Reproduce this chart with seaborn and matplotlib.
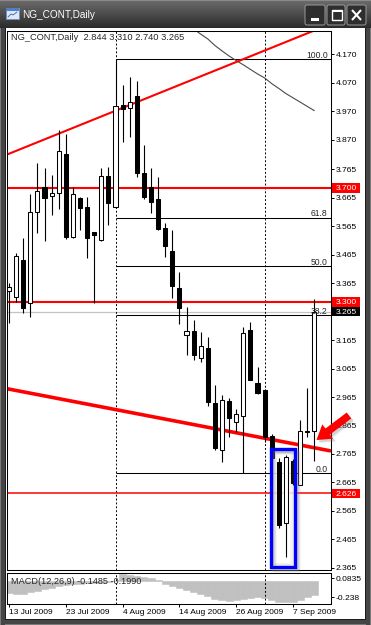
import numpy as np
import pandas as pd
import matplotlib
matplotlib.use("Agg")
import matplotlib.pyplot as plt
import matplotlib.transforms as mtransforms
from matplotlib.patches import Rectangle, FancyArrow, FancyBboxPatch
import seaborn as sns

# ---------------- data ----------------
date_labels = ["13 Jul 2009", "23 Jul 2009", "4 Aug 2009", "14 Aug 2009", "26 Aug 2009", "7 Sep 2009"]
date_bars = [0, 8, 16, 24, 32, 40]

opens = [3.338, 3.318, 3.447, 3.295, 3.614, 3.704, 3.673, 3.681, 3.819, 3.527,
         3.666, 3.634, 3.544, 3.517, 3.743, 3.632, 3.991, 3.980, 4.023, 3.752,
         3.704, 3.660, 3.558, 3.478, 3.347, 3.183, 3.197, 3.101, 3.136, 2.943,
         2.779, 2.952, 2.876, 2.898, 3.201, 3.013, 2.990, 2.829, 2.738, 2.521,
         2.741, 2.656, 2.845, 2.844]
highs = [3.365, 3.472, 3.525, 3.679, 3.787, 3.769, 3.746, 3.904, 3.889, 3.702,
         3.670, 3.667, 3.546, 3.771, 3.773, 4.152, 4.062, 4.091, 4.077, 3.851,
         3.769, 3.740, 3.576, 3.552, 3.406, 3.283, 3.236, 3.195, 3.177, 3.007,
         2.972, 2.961, 2.923, 3.212, 3.230, 3.070, 2.992, 2.835, 2.750, 2.761,
         2.748, 2.884, 2.996, 3.310]
lows = [3.224, 3.300, 3.261, 3.247, 3.543, 3.514, 3.605, 3.626, 3.520, 3.524,
        3.552, 3.453, 3.295, 3.515, 3.570, 3.628, 3.863, 3.880, 3.740, 3.661,
        3.611, 3.552, 3.458, 3.312, 3.222, 3.113, 3.095, 3.089, 2.933, 2.779,
        2.738, 2.826, 2.843, 2.697, 3.025, 2.975, 2.808, 2.740, 2.503, 2.404,
        2.655, 2.656, 2.825, 2.740]
closes = [3.352, 3.461, 3.279, 3.617, 3.690, 3.664, 3.681, 3.831, 3.529, 3.678,
          3.629, 3.523, 3.535, 3.742, 3.646, 3.988, 3.977, 4.002, 3.752, 3.669,
          3.650, 3.555, 3.496, 3.355, 3.277, 3.197, 3.113, 3.144, 2.949, 2.785,
          2.955, 2.890, 2.907, 3.191, 3.025, 2.978, 2.825, 2.750, 2.515, 2.755,
          2.662, 2.845, 2.843, 3.265]

ma_bars = list(range(25, 44))
ma_values = [4.280, 4.259, 4.241, 4.224, 4.201, 4.182, 4.164, 4.148, 4.133, 4.117,
             4.101, 4.087, 4.067, 4.050, 4.032, 4.017, 4.002, 3.987, 3.972]

macd_hist = [-0.128, -0.136, -0.139, -0.118, -0.104, -0.087, -0.076, -0.059, -0.045, -0.038,
             -0.031, -0.028, -0.024, -0.020, -0.012, -0.004, 0.073, 0.063, 0.052, 0.038,
             0.024, 0.010, -0.031, -0.052, -0.080, -0.101, -0.118, -0.136, -0.164, -0.191,
             -0.205, -0.209, -0.198, -0.188, -0.181, -0.174, -0.184, -0.198, -0.219, -0.226,
             -0.219, -0.198, -0.170, -0.1485]

fib_levels = [4.152, 3.596, 3.4245, 3.253, 2.697]
fib_labels = ["100.0", "61.8", "50.0", "38.2", "0.0"]
fib_start = 15

red_levels = [3.700, 3.300, 2.626]
red_level_labels = ["3.700", "3.300", "2.626"]
bid_price = 3.265
bid_label = "3.265"

price_ticks = [4.170, 4.070, 3.970, 3.870, 3.765, 3.665, 3.565, 3.465, 3.365, 3.265,
               3.165, 3.065, 2.965, 2.865, 2.765, 2.665, 2.565, 2.465, 2.365]

upper_trend_x = [-0.24, 45.31]
upper_trend_y = [3.818, 4.277]
lower_trend_x = [-0.24, 45.21]
lower_trend_y = [2.994, 2.776]

separators = [15, 36]

chart_title = "NG_CONT,Daily  2.844 3.310 2.740 3.265"
macd_title = "MACD(12,26,9) -0.1485 -0.1990"
macd_tick_labels = ["0.0835", "-0.238"]
window_title = "NG_CONT,Daily"

# ---------------- style ----------------
sns.set_style("white")
plt.rcParams['font.family'] = ['Liberation Sans', 'DejaVu Sans']

W, H = 371, 625
fig = plt.figure(figsize=(W / 100, H / 100), dpi=100)
fig.patch.set_facecolor('#3c3c3c')

# background (window chrome), pixel coordinates
bg = fig.add_axes([0, 0, 1, 1], zorder=0)
bg.set_xlim(0, W); bg.set_ylim(H, 0); bg.axis('off')

tb_h = 28
top_c = np.array([0.42, 0.42, 0.42]); bot_c = np.array([0.17, 0.17, 0.17])
for r in range(tb_h):
    t = r / (tb_h - 1)
    col = top_c * (1 - t) + bot_c * t
    bg.add_patch(Rectangle((0, r), W, 1, facecolor=col, edgecolor='none'))
bg.add_patch(Rectangle((0, 0), W, 1, facecolor='#8a8a8a', edgecolor='none'))
for (x0, w, col) in [(0, 1, '#7a7a7a'), (1, 4, '#454545'), (5, 1, '#1c1c1c'),
                     (365, 1, '#1c1c1c'), (366, 4, '#454545'), (370, 1, '#7a7a7a')]:
    bg.add_patch(Rectangle((x0, tb_h), w, H - tb_h, facecolor=col, edgecolor='none'))
for (y0, h, col) in [(619, 1, '#1c1c1c'), (620, 4, '#454545'), (624, 1, '#7a7a7a')]:
    bg.add_patch(Rectangle((5, y0), 361, h, facecolor=col, edgecolor='none'))
bg.add_patch(Rectangle((6, tb_h), 359, 619 - tb_h, facecolor='white', edgecolor='none'))

# icon
bg.add_patch(Rectangle((6, 8), 13, 11, facecolor='#dfe8f5', edgecolor='#6f8fc0', lw=0.6))
bg.add_patch(Rectangle((6, 8), 13, 3, facecolor='#4f7fc8', edgecolor='none'))
bg.plot([8, 11, 13, 17], [17, 14, 15, 12], color='#3060b0', lw=0.6)
bg.text(22.5, 15, window_title, color='white', fontsize=7.2, va='center', ha='left')

# title-bar buttons
for (x0, x1) in [(305, 325), (327, 345), (347, 366)]:
    bg.add_patch(FancyBboxPatch((x0, 5), x1 - x0, 20, boxstyle="round,pad=0,rounding_size=2",
                                facecolor='#2e2e2e', edgecolor='#9a9a9a', lw=0.7))
bg.add_patch(Rectangle((311, 18), 8, 2.5, facecolor='white', edgecolor='none'))
bg.add_patch(Rectangle((331.5, 9.5), 10, 10, facecolor='none', edgecolor='white', lw=1.0))
bg.add_patch(Rectangle((331.5, 9.5), 10, 2, facecolor='white', edgecolor='none'))
bg.plot([352, 361], [10, 20], color='white', lw=1.5, solid_capstyle='butt')
bg.plot([352, 361], [20, 10], color='white', lw=1.5, solid_capstyle='butt')

# ---------------- main price pane ----------------
px_left, px_right = 7.3, 330.7
main_top, main_bot = 30.7, 570.0
ax = fig.add_axes([px_left / W, 1 - main_bot / H, (px_right - px_left) / W, (main_bot - main_top) / H], zorder=1)
ax.set_facecolor('white')
xlim = (-0.24, 45.31)
ylim = (2.3568, 4.253)

ax.axhline(bid_price, color='#c4c4c4', lw=0.9, zorder=1)
for lv in red_levels[:2]:
    ax.axhline(lv, color='#ff0000', lw=1.5, zorder=1.6)
ax.axhline(red_levels[2], color='#ff0000', lw=1.1, zorder=1.6)

ax.hlines(fib_levels, fib_start, xlim[1], color='black', lw=0.75, zorder=1.5)
fib_trans = mtransforms.offset_copy(ax.transData, fig=fig, x=-2.2, y=1.6, units='dots')
for lv, lab in zip(fib_levels, fib_labels):
    ax.text(45.2, lv, lab, transform=fib_trans, ha='right', va='baseline', fontsize=6.2, zorder=6)

for s in separators:
    ax.axvline(s, color='black', lw=0.7, ls=(0, (2, 2)), zorder=1.4)

sns.lineplot(x=ma_bars, y=ma_values, ax=ax, color='#4a4a4a', linewidth=0.8, zorder=2)
sns.lineplot(x=upper_trend_x, y=upper_trend_y, ax=ax, color='#ff0000', linewidth=1.5, zorder=2.2)
sns.lineplot(x=lower_trend_x, y=lower_trend_y, ax=ax, color='#ff0000', linewidth=2.6, zorder=2.2)

idx = np.arange(len(opens))
o = np.array(opens); c = np.array(closes); hi = np.array(highs); lo = np.array(lows)
ax.vlines(idx, lo, hi, color='black', lw=0.8, zorder=3)
up = c >= o
body_h = np.maximum(np.abs(c - o), 0.002)
ax.bar(idx[up], body_h[up], bottom=np.minimum(o, c)[up], width=0.58,
       color='white', edgecolor='black', linewidth=0.75, zorder=4)
ax.bar(idx[~up], body_h[~up], bottom=np.minimum(o, c)[~up], width=0.58,
       color='black', edgecolor='black', linewidth=0.75, zorder=4)

ax.set_xlim(*xlim); ax.set_ylim(*ylim)
ax.set_xlabel(''); ax.set_ylabel('')
ax.set_yticks(price_ticks, labels=[f"{p:.3f}" for p in price_ticks])
ax.tick_params(axis='y', left=False, right=True, labelleft=False, labelright=True,
               direction='out', length=2.3, width=0.7, pad=1.2, labelsize=6.1, colors='black')
ax.tick_params(axis='x', bottom=False, labelbottom=False)
for sp in ax.spines.values():
    sp.set_color('black'); sp.set_linewidth(0.75); sp.set_visible(True)

ax.text(3.7 / 323.4, 1 - 6.6 / 539.3, chart_title, transform=ax.transAxes,
        fontsize=6.7, va='center', ha='left', zorder=7)

trans_lab = mtransforms.blended_transform_factory(ax.transAxes, ax.transData)
box_h = 9.6 / 284.4
for lv, lab, col in list(zip(red_levels, red_level_labels, ['#ff0000'] * 3)) + [(bid_price, bid_label, 'black')]:
    ax.add_patch(Rectangle((1 + 1.6 / 323.4, lv - box_h / 2), 27.5 / 323.4, box_h, transform=trans_lab,
                           facecolor=col, edgecolor='none', clip_on=False, zorder=10))
    ax.text(1 + 15.2 / 323.4, lv, lab, transform=trans_lab, color='white', ha='center',
            va='center_baseline', fontsize=6.1, clip_on=False, zorder=11)

# ---------------- MACD pane ----------------
m_top, m_bot = 572.7, 603.5
ax2 = fig.add_axes([px_left / W, 1 - m_bot / H, (px_right - px_left) / W, (m_bot - m_top) / H], zorder=1)
ax2.set_facecolor('white')
sns.barplot(x=list(idx), y=macd_hist, native_scale=True, width=1.0, color='#c0c0c0', saturation=1,
            edgecolor='#c0c0c0', linewidth=0.4, errorbar=None, ax=ax2, zorder=2)
for s in separators:
    ax2.axvline(s, color='black', lw=0.7, ls=(0, (2, 2)), zorder=3)
ax2.set_xlim(*xlim); ax2.set_ylim(-0.238, 0.0835)
ax2.set_xlabel(''); ax2.set_ylabel('')
ax2.set_xticks(date_bars, labels=date_labels, ha='left')
ax2.tick_params(axis='x', bottom=True, direction='out', length=2.3, width=0.7, pad=1.8,
                labelsize=6.0, colors='black')
mpp = 0.3215 / (m_bot - m_top)
ax2.set_yticks([0.0835 - (578.3 - m_top) * mpp, 0.0835 - (597.3 - m_top) * mpp], labels=macd_tick_labels)
ax2.tick_params(axis='y', left=False, right=True, labelleft=False, labelright=True,
                direction='out', length=2.3, width=0.7, pad=1.2, labelsize=6.1, colors='black')
for sp in ax2.spines.values():
    sp.set_color('black'); sp.set_linewidth(0.75); sp.set_visible(True)
ax2.text(3.7 / 323.4, (m_bot - 581.0) / (m_bot - m_top), macd_title, transform=ax2.transAxes,
         fontsize=6.6, va='center_baseline', ha='left', zorder=5)

# ---------------- foreground annotations (pixel coords) ----------------
fg = fig.add_axes([0, 0, 1, 1], zorder=5)
fg.set_xlim(0, W); fg.set_ylim(H, 0); fg.axis('off'); fg.patch.set_visible(False)

bx0, by0, bx1, by1 = 270.8, 449.4, 295.0, 567.3
ax.add_patch(Rectangle((bx0, by0), bx1 - bx0, by1 - by0, transform=fg.transData,
                       facecolor='white', edgecolor='none', alpha=0.85, zorder=2.5))
for k, a in [(4.0, 0.10), (2.8, 0.16), (1.6, 0.22)]:
    fg.add_patch(Rectangle((bx0 + k, by0 + k), bx1 - bx0, by1 - by0, facecolor='none',
                           edgecolor='#808080', lw=2.6, alpha=a))
for k, a in [(2.2, 0.12), (3.6, 0.07)]:
    fg.add_patch(Rectangle((bx0 + k, by0 + k), bx1 - bx0 - 2 * k, by1 - by0 - 2 * k, facecolor='none',
                           edgecolor='#808080', lw=1.6, alpha=a))
fg.add_patch(Rectangle((bx0, by0), bx1 - bx0, by1 - by0, facecolor='none', edgecolor='#0000ff', lw=2.4))

ax_tail = (349.0, 415.5); ax_dx, ax_dy = -32.5, 24.5
for k, a in [(3.0, 0.15), (2.0, 0.2)]:
    fg.add_patch(FancyArrow(ax_tail[0] + k, ax_tail[1] + k, ax_dx, ax_dy, width=7.5, head_width=18,
                            head_length=14, length_includes_head=True, color='#707070', alpha=a, lw=0))
fg.add_patch(FancyArrow(ax_tail[0], ax_tail[1], ax_dx, ax_dy, width=7.5, head_width=18,
                        head_length=14, length_includes_head=True, color='#ff0000', lw=0))

fig.savefig("out.png", dpi=100, facecolor=fig.get_facecolor())
